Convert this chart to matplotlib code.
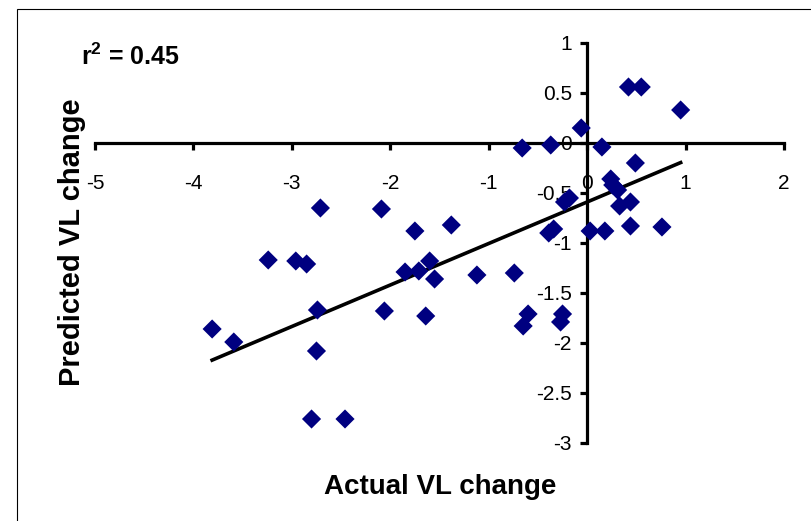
import numpy as np
import matplotlib
matplotlib.use("Agg")
import matplotlib.pyplot as plt
from matplotlib.patches import Rectangle

plt.rcParams["font.family"] = ["Liberation Sans", "DejaVu Sans"]
plt.rcParams["axes.unicode_minus"] = False
plt.rcParams["mathtext.fontset"] = "custom"
plt.rcParams["mathtext.rm"] = "Liberation Sans"
plt.rcParams["mathtext.bf"] = "Liberation Sans:bold"

# actual vs predicted VL change
actual = [0.42, 0.55, 0.95, -0.06, -0.66, -0.37, 0.15, 0.49, 0.24, 0.26,
          0.31, 0.33, 0.44, 0.03, 0.18, 0.44, 0.76, -0.23, -0.18, -0.39,
          -0.34, -1.75, -1.38, -2.09, -2.71, -1.85, -1.71, -1.60, -1.55, -1.12,
          -0.74, -2.06, -1.64, -0.60, -0.65, -0.25, -0.27, -3.24, -2.96, -2.85,
          -2.74, -3.81, -3.59, -2.75, -2.80, -2.46]
predicted = [0.56, 0.56, 0.33, 0.15, -0.05, -0.02, -0.04, -0.20, -0.36, -0.42,
             -0.47, -0.63, -0.59, -0.88, -0.88, -0.83, -0.84, -0.59, -0.55, -0.90,
             -0.86, -0.88, -0.82, -0.66, -0.65, -1.29, -1.28, -1.18, -1.36, -1.32,
             -1.30, -1.68, -1.73, -1.71, -1.83, -1.71, -1.79, -1.17, -1.18, -1.21,
             -1.67, -1.86, -1.99, -2.08, -2.76, -2.76]
# trendline as drawn in the original (slope, intercept)
trend = [0.415, -0.59]
x_ticks = [-5, -4, -3, -2, -1, 0, 1, 2]
y_ticks = [1, 0.5, 0, -0.5, -1, -1.5, -2, -2.5, -3]
r2_text = r"r$^{\mathbf{2}}$ = 0.45"

x = np.array(actual)
y = np.array(predicted)

fig = plt.figure(figsize=(8.11, 5.21), dpi=100)
ax = fig.add_axes([95 / 811, 1 - 443 / 521, 689 / 811, 400 / 521])

ax.scatter(x, y, marker="D", s=95, color="#000080", edgecolors="none", zorder=3)

# linear trendline over the data range
xs = np.array([x.min(), x.max()])
ax.plot(xs, trend[0] * xs + trend[1], color="black", lw=2.6, zorder=2)

ax.set_xlim(-5, 2)
ax.set_ylim(-3, 1)
ax.set_xticks(x_ticks)
ax.set_yticks(y_ticks)
ax.set_xticklabels([f"{v:g}" for v in x_ticks])
ax.set_yticklabels([f"{v:g}" for v in y_ticks])

for side in ["top", "right"]:
    ax.spines[side].set_visible(False)
for side in ["left", "bottom"]:
    ax.spines[side].set_position(("data", 0))
    ax.spines[side].set_linewidth(2.3)
    ax.spines[side].set_zorder(1)

ax.tick_params(axis="x", direction="out", length=5, width=2.3, pad=17, labelsize=15)
ax.tick_params(axis="y", direction="out", length=5, width=2.3, pad=6, labelsize=15)
ax.patch.set_visible(False)

fig.text(440 / 811, 1 - 487 / 521, "Actual VL change", ha="center", va="center",
         fontsize=20, fontweight="bold")
fig.text(72 / 811, 1 - 242 / 521, "Predicted VL change", ha="center", va="center",
         rotation=90, fontsize=21, fontweight="bold")
fig.text(81 / 811, 1 - 65 / 521, r2_text, ha="left", va="baseline",
         fontsize=18, fontweight="bold")

fig.patches.append(Rectangle((16.5 / 811, -0.2), 1.2, 1.2 - 9 / 521,
                             transform=fig.transFigure, fill=False,
                             edgecolor="black", lw=0.8))

fig.savefig("out.png", dpi=100)
